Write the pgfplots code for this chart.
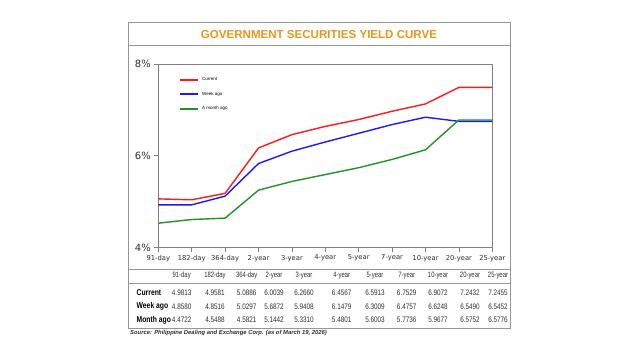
\documentclass[border=0pt]{standalone}
\usepackage{pgfplots}
\pgfplotsset{compat=1.18}
\usepackage{graphicx}
\usepackage{fontspec}
\setmainfont{Liberation Sans}
\newfontfamily\dejavu{DejaVu Sans}
\definecolor{titleor}{RGB}{232,150,30}
\definecolor{framec}{RGB}{150,150,150}
\definecolor{cred}{RGB}{255,25,25}
\definecolor{cblue}{RGB}{25,25,255}
\definecolor{cgreen}{RGB}{35,145,35}
\definecolor{txt}{RGB}{45,45,45}
\newcommand\cond[1]{\scalebox{0.8}[1]{#1}}
\newcommand\condh[1]{\scalebox{0.76}[1]{#1}}
\begin{document}
\begin{tikzpicture}[x=1bp,y=1bp]
\path (0,0) rectangle (640,360);
\coordinate (P) at (158.3,112.5);
\draw[framec, line width=0.9bp] (128.5,32) rectangle (510.5,338);
\draw[framec, line width=0.9bp] (128.5,315) -- (510.5,315);
\draw[framec, line width=0.9bp] (128.5,91) -- (510.5,91);
\draw[framec, line width=0.7bp] (128.5,77) -- (510.5,77);
\node[titleor, font=\fontsize{11.6}{13}\selectfont\bfseries] at (319,325.5) {GOVERNMENT SECURITIES YIELD CURVE};
\begin{axis}[
  at={(P)}, anchor=south west, scale only axis,
  width=334bp, height=183.5bp,
  xmin=0, xmax=10, ymin=4, ymax=8,
  xtick={0,...,10},
  xticklabels={91-day,182-day,364-day,2-year,3-year,4-year,5-year,7-year,10-year,20-year,25-year},
  ytick={4,6,8}, yticklabels={4\%,6\%,8\%},
  xtick pos=bottom, ytick pos=left, tick align=outside,
  major tick length=4bp,
  axis line style={draw=gray, line width=0.8bp},
  tick style={gray, line width=0.6bp},
  x tick label style={font=\dejavu\fontsize{6.8}{7}\selectfont, text=txt},
  y tick label style={font=\dejavu\fontsize{10}{11}\selectfont, text=txt},
  legend cell align=left,
  legend style={draw=none, fill=none, at={(axis description cs:0.063,0.939)}, anchor=north west,
    font=\fontsize{4.5}{5}\selectfont, row sep=6bp, column sep=1.5bp, inner sep=0pt},
  legend image code/.code={\draw[#1, line width=1.8bp] plot coordinates {(0bp,0bp) (17.4bp,0bp)};},
]
\addplot[draw=cred, color=cred, line width=1.4bp] coordinates {(0,5.06) (1,5.04) (2,5.18) (3,6.17) (4,6.46) (5,6.64) (6,6.79) (7,6.97) (8,7.13) (9,7.49) (10,7.49)};
\addlegendentry{Current}
\addplot[draw=cblue, color=cblue, line width=1.4bp] coordinates {(0,4.93) (1,4.93) (2,5.12) (3,5.83) (4,6.10) (5,6.30) (6,6.49) (7,6.68) (8,6.84) (9,6.75) (10,6.75)};
\addlegendentry{Week ago}
\addplot[draw=cgreen, color=cgreen, line width=1.4bp] coordinates {(0,4.53) (1,4.61) (2,4.64) (3,5.25) (4,5.44) (5,5.59) (6,5.74) (7,5.92) (8,6.13) (9,6.78) (10,6.78)};
\addlegendentry{A month ago}
\end{axis}
% table
\foreach \lab/\cx in {91-day/181.7,182-day/215,364-day/246.7,2-year/274,3-year/304,4-year/341.7,5-year/375,7-year/406.7,10-year/438,20-year/470,25-year/498}
  \node[font=\fontsize{7.8}{8}\selectfont, text=txt] at (\cx,84.5) {\condh{\lab}};
\foreach \v/\cx in {4.9813/181.7,4.9581/215,5.0886/246.7,6.0039/274,6.2660/304,6.4567/341.7,6.5913/375,6.7529/406.7,6.9072/438,7.2432/470,7.2455/498}
  \node[font=\fontsize{8}{9}\selectfont, text=txt] at (\cx,67.5) {\cond{\v}};
\foreach \v/\cx in {4.8580/181.7,4.8516/215,5.0297/246.7,5.6872/274,5.9408/304,6.1479/341.7,6.3009/375,6.4757/406.7,6.6248/438,6.5490/470,6.5452/498}
  \node[font=\fontsize{8}{9}\selectfont, text=txt] at (\cx,53.5) {\cond{\v}};
\foreach \v/\cx in {4.4722/181.7,4.5488/215,4.5821/246.7,5.1442/274,5.3310/304,5.4801/341.7,5.6003/375,5.7736/406.7,5.9677/438,6.5752/470,6.5776/498}
  \node[font=\fontsize{8}{9}\selectfont, text=txt] at (\cx,40) {\cond{\v}};
\node[anchor=west, font=\fontsize{8.5}{9}\selectfont\bfseries, inner sep=0pt] at (136.5,67.5) {\cond{Current}};
\node[anchor=west, font=\fontsize{8.5}{9}\selectfont\bfseries, inner sep=0pt] at (136.5,53.5) {\cond{Week ago}};
\node[anchor=west, font=\fontsize{8.5}{9}\selectfont\bfseries, inner sep=0pt] at (136.5,40) {\cond{Month ago}};
\node[anchor=west, font=\fontsize{5.9}{6}\selectfont\bfseries\itshape, inner sep=0pt, text=txt] at (130,27) {Source: Philippine Dealing and Exchange Corp. (as of March 19, 2026)};
\end{tikzpicture}
\end{document}
